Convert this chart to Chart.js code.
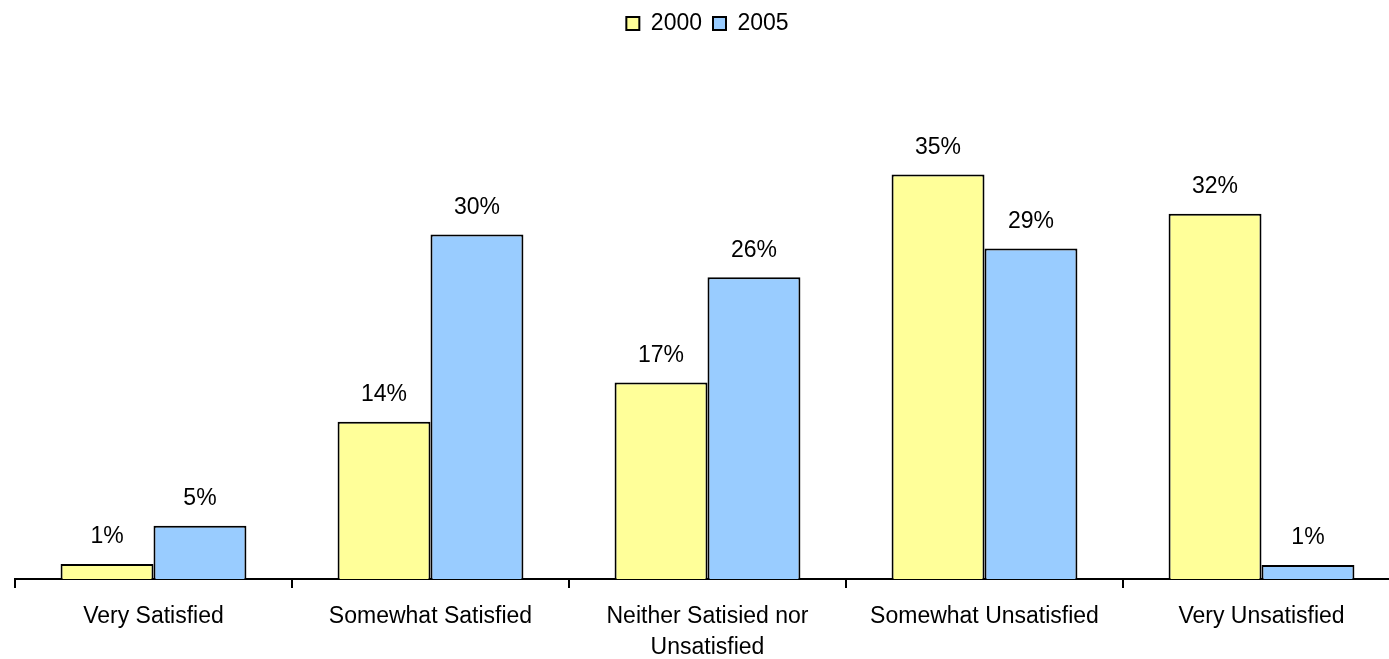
<!DOCTYPE html>
<html>
<head>
<meta charset="utf-8">
<script src="https://cdn.jsdelivr.net/npm/chart.js@4/dist/chart.umd.min.js"></script>
<style>
  html, body { margin: 0; padding: 0; background: #fff; overflow: hidden; }
  #wrap { position: relative; width: 1400px; height: 678px; }
</style>
</head>
<body>
<div id="wrap"><canvas id="chart"></canvas></div>
<script>
// categories and series (percent)
const categories = [
  "Very Satisfied",
  "Somewhat Satisfied",
  ["Neither Satisied nor", "Unsatisfied"],
  "Somewhat Unsatisfied",
  "Very Unsatisfied"
];
const seriesNames = ["2000", "2005"];
const values2000 = [1.3, 13.6, 17.0, 35.0, 31.6];
const values2005 = [4.6, 29.8, 26.1, 28.6, 1.2];

const FONT = 'Arial, "Liberation Sans", sans-serif';

// bar value labels drawn above each bar
const barLabels = {
  id: "barLabels",
  afterDatasetsDraw(chart) {
    const ctx = chart.ctx;
    ctx.save();
    ctx.font = "23px " + FONT;
    ctx.fillStyle = "#000";
    ctx.textAlign = "center";
    ctx.textBaseline = "middle";
    chart.data.datasets.forEach((ds, i) => {
      chart.getDatasetMeta(i).data.forEach((bar, j) => {
        ctx.fillText(Math.round(ds.data[j]) + "%", bar.x, bar.y - 27);
      });
    });
    ctx.restore();
  }
};

new Chart(document.getElementById("chart"), {
  type: "bar",
  data: {
    labels: categories,
    datasets: [
      {
        label: seriesNames[0],
        data: values2000,
        backgroundColor: "#FFFF99",
        borderColor: "#000",
        borderWidth: 2
      },
      {
        label: seriesNames[1],
        data: values2005,
        backgroundColor: "#99CCFF",
        borderColor: "#000",
        borderWidth: 2
      }
    ]
  },
  options: {
    responsive: true,
    maintainAspectRatio: false,
    animation: false,
    layout: { padding: { left: 15, right: 0, top: 1, bottom: 2 } },
    datasets: {
      bar: { categoryPercentage: 0.671, barPercentage: 1 }
    },
    plugins: {
      legend: {
        position: "top",
        labels: {
          boxWidth: 13,
          boxHeight: 13,
          padding: 11,
          color: "#000",
          font: { family: FONT, size: 23 }
        }
      },
      tooltip: { enabled: false }
    },
    scales: {
      x: {
        grid: {
          offset: true,
          drawOnChartArea: false,
          drawTicks: true,
          tickLength: 9,
          color: "#000",
          lineWidth: 2
        },
        border: { display: true, color: "#000", width: 2 },
        ticks: {
          color: "#000",
          padding: 13,
          maxRotation: 0,
          autoSkip: false,
          font: { family: FONT, size: 23, lineHeight: 1.35 }
        }
      },
      y: {
        display: false,
        min: 0,
        max: 46.2
      }
    }
  },
  plugins: [barLabels]
});
</script>
</body>
</html>
